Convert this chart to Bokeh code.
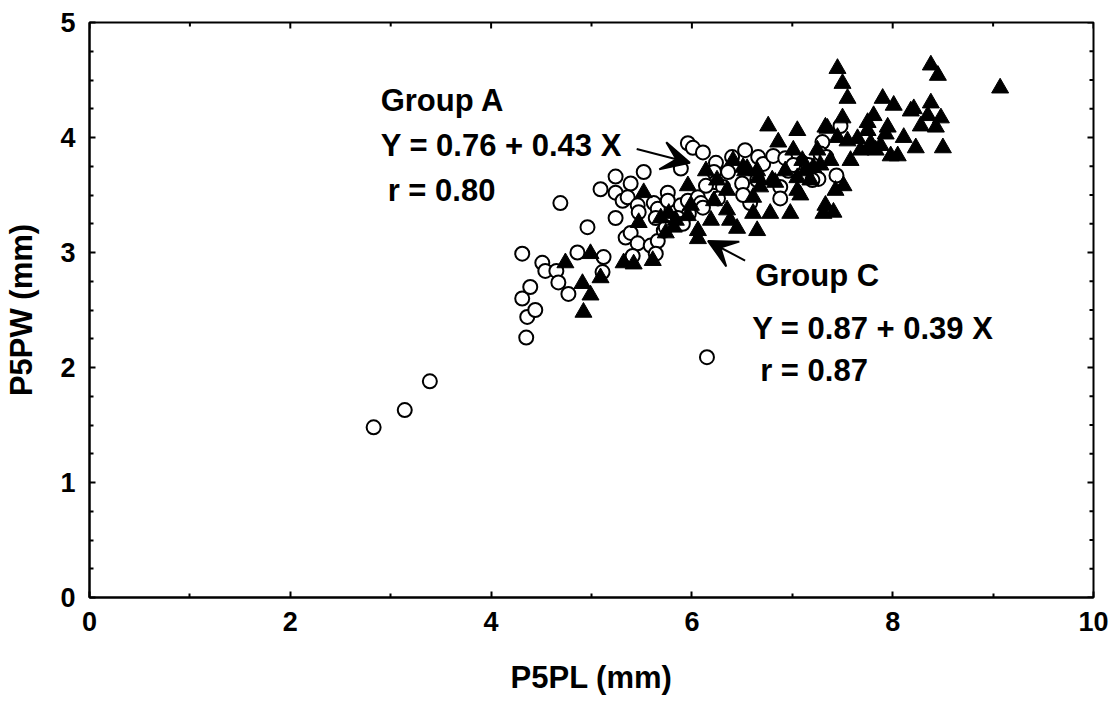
import math
from bokeh.plotting import figure
from bokeh.models import Arrow, VeeHead, Label, Range1d, FixedTicker
from bokeh.embed import file_html
from bokeh.resources import INLINE

# Group A (open circles)
a_x = [2.83, 3.14, 3.39, 4.31, 4.31, 4.39, 4.36, 4.35, 4.44, 4.51, 4.54, 4.65, 4.67, 4.77,
       4.69, 4.86, 4.96, 5.12, 5.11, 5.09, 5.24, 5.24, 5.31, 5.24, 5.34, 5.39, 5.46, 5.41,
       5.59, 5.66, 5.64, 5.72, 5.39, 5.36, 5.46, 5.47, 5.62, 5.66, 5.76, 5.76, 5.89, 5.96,
       6.06, 6.09, 5.97, 5.86, 5.74, 5.91, 5.64, 5.52, 5.89, 5.96, 6.01, 6.11, 6.24, 6.22,
       6.24, 6.31, 6.26, 6.53, 6.36, 6.66, 6.71, 6.81, 6.93, 7.30, 7.28, 7.26, 6.14, 6.50,
       6.58, 6.51, 6.88, 6.88, 6.11, 7.48, 6.15, 6.65, 6.96, 7.10, 7.16, 7.20, 7.34, 7.44,
       6.40, 7.01]
a_y = [1.48, 1.63, 1.88, 2.99, 2.60, 2.70, 2.44, 2.26, 2.50, 2.91, 2.84, 2.84, 2.74, 2.64,
       3.43, 3.00, 3.22, 2.96, 2.83, 3.55, 3.66, 3.52, 3.45, 3.30, 3.13, 3.17, 3.08, 2.97,
       3.06, 3.10, 2.99, 3.19, 3.60, 3.48, 3.41, 3.35, 3.43, 3.38, 3.52, 3.45, 3.41, 3.45,
       3.48, 3.43, 3.34, 3.30, 3.22, 3.25, 3.30, 3.70, 3.73, 3.95, 3.91, 3.87, 3.78, 3.70,
       3.61, 3.57, 3.47, 3.89, 3.70, 3.83, 3.77, 3.84, 3.82, 3.96, 3.86, 3.64, 3.58, 3.60,
       3.43, 3.50, 3.57, 3.47, 3.39, 4.10, 2.09, 3.63, 3.71, 3.78, 3.76, 3.63, 3.83, 3.67,
       3.83, 3.76]

# Group C (filled triangles)
c_x = [4.92, 4.99, 4.91, 5.09, 4.74, 4.99, 5.32, 5.42, 5.61, 5.52, 5.47, 5.69, 5.77, 5.84,
       5.96, 6.06, 6.19, 6.35, 6.38, 6.41, 6.53, 5.96, 6.35, 5.74, 5.82, 6.06, 6.65, 6.61,
       6.61, 6.66, 6.80, 7.01, 7.10, 7.13, 7.05, 7.05, 7.25, 7.21, 7.45, 7.55, 7.65, 7.75,
       7.78, 7.88, 7.93, 7.68, 7.83, 8.05, 6.76, 7.05, 7.33, 7.50, 7.75, 7.81, 7.95, 6.86,
       6.98, 7.33, 7.41, 7.51, 7.45, 7.50, 7.55, 7.90, 8.01, 8.21, 8.38, 8.45, 9.07, 8.38,
       8.48, 8.28, 8.11, 8.23, 8.50, 7.98, 8.43, 6.45, 6.78, 7.31, 6.51, 6.55, 6.65, 6.83,
       8.18, 8.35, 7.35, 7.78, 6.68, 6.93, 7.08, 7.18, 7.28, 7.38, 7.58, 7.43, 6.14, 6.25,
       5.99, 6.22]
c_y = [2.48, 2.63, 2.73, 2.78, 2.91, 2.99, 2.91, 2.90, 2.93, 3.52, 3.26, 3.30, 3.34, 3.28,
       3.32, 3.19, 3.28, 3.37, 3.28, 3.80, 3.71, 3.58, 3.54, 3.17, 3.22, 3.12, 3.19, 3.34,
       3.48, 3.65, 3.63, 3.89, 3.80, 3.71, 3.54, 3.65, 3.89, 3.74, 4.00, 3.97, 3.99, 4.06,
       3.95, 3.93, 4.03, 3.89, 3.89, 3.84, 4.10, 4.06, 4.09, 4.17, 4.13, 4.19, 4.09, 3.96,
       3.34, 3.41, 3.35, 3.58, 4.60, 4.47, 4.34, 4.34, 4.28, 4.25, 4.63, 4.54, 4.43, 4.30,
       4.17, 4.10, 4.00, 3.91, 3.91, 3.84, 4.09, 3.21, 3.34, 3.34, 3.74, 3.73, 3.71, 3.61,
       4.23, 4.19, 4.08, 3.91, 3.57, 3.71, 3.50, 3.63, 3.76, 3.80, 3.80, 3.54, 3.71, 3.63,
       3.41, 3.45]

x_ticks = [0, 2, 4, 6, 8, 10]
x_minor = [1, 3, 5, 7, 9]
y_ticks = [0, 1, 2, 3, 4, 5]
y_minor = [0.25, 0.5, 0.75, 1.25, 1.5, 1.75, 2.25, 2.5, 2.75, 3.25, 3.5, 3.75, 4.25, 4.5, 4.75]

X_MIN, X_MAX, Y_MIN, Y_MAX = 0, 10, 0, 5
FONT = "Liberation Sans"

p = figure(width=1109, height=702, output_backend="svg", toolbar_location=None,
           x_range=Range1d(X_MIN, X_MAX), y_range=Range1d(Y_MIN, Y_MAX),
           min_border_left=89, min_border_right=16, min_border_top=22, min_border_bottom=105)
p.background_fill_color = "white"
p.border_fill_color = "white"
p.grid.visible = False
p.outline_line_color = "black"
p.outline_line_width = 2

for ax in (p.xaxis[0], p.yaxis[0]):
    ax.axis_line_color = "black"
    ax.axis_line_width = 2
    ax.major_tick_in = 6
    ax.major_tick_out = 0
    ax.minor_tick_in = 4
    ax.minor_tick_out = 0
    ax.major_tick_line_width = 2
    ax.minor_tick_line_width = 2
    ax.major_label_text_font = FONT
    ax.major_label_text_font_style = "bold"
    ax.major_label_text_font_size = "27px"
    ax.major_label_text_color = "black"
    ax.axis_label_text_font = FONT
    ax.axis_label_text_font_style = "bold"
    ax.axis_label_text_font_size = "31px"
    ax.axis_label_text_color = "black"

p.xaxis.ticker = FixedTicker(ticks=x_ticks, minor_ticks=x_minor)
p.yaxis.ticker = FixedTicker(ticks=y_ticks, minor_ticks=y_minor)
p.xaxis.axis_label = "P5PL (mm)"
p.yaxis.axis_label = "P5PW (mm)"
p.xaxis.major_label_standoff = 14
p.yaxis.major_label_standoff = 14
p.xaxis.axis_label_standoff = 26
p.yaxis.axis_label_standoff = 18

# mirrored inward ticks on top and right edges (half of each dash is clipped by the frame)
p.scatter(x_ticks, [Y_MAX] * len(x_ticks), marker="dash", angle=math.pi / 2, size=12,
          line_color="black", line_width=2)
p.scatter(x_minor, [Y_MAX] * len(x_minor), marker="dash", angle=math.pi / 2, size=8,
          line_color="black", line_width=2)
p.scatter([X_MAX] * len(y_ticks), y_ticks, marker="dash", size=12,
          line_color="black", line_width=2)
p.scatter([X_MAX] * len(y_minor), y_minor, marker="dash", size=8,
          line_color="black", line_width=2)

p.scatter(a_x, a_y, marker="circle", size=14, fill_color="white", line_color="black", line_width=2)
p.scatter(c_x, c_y, marker="triangle", size=17, fill_color="black", line_color="black", line_width=1)

ann = [
    ("Group A", 2.90, 4.32),
    ("Y = 0.76 + 0.43 X", 2.90, 3.93),
    ("r = 0.80", 2.97, 3.54),
    ("Group C", 6.63, 2.80),
    ("Y = 0.87 + 0.39 X", 6.60, 2.34),
    ("r = 0.87", 6.68, 1.97),
]
for t, x, y in ann:
    p.add_layout(Label(x=x, y=y, text=t, text_font=FONT, text_font_style="bold",
                       text_font_size="31px", text_color="black", text_baseline="middle",
                       text_align="left"))

for (x0, y0, x1, y1) in [(5.45, 3.90, 5.98, 3.78), (6.53, 2.93, 6.16, 3.10)]:
    p.add_layout(Arrow(end=VeeHead(size=28, fill_color="black", line_color="black", line_width=2),
                       x_start=x0, y_start=y0, x_end=x1, y_end=y1,
                       line_color="black", line_width=2))

open("out.html", "w").write(file_html(p, INLINE))
